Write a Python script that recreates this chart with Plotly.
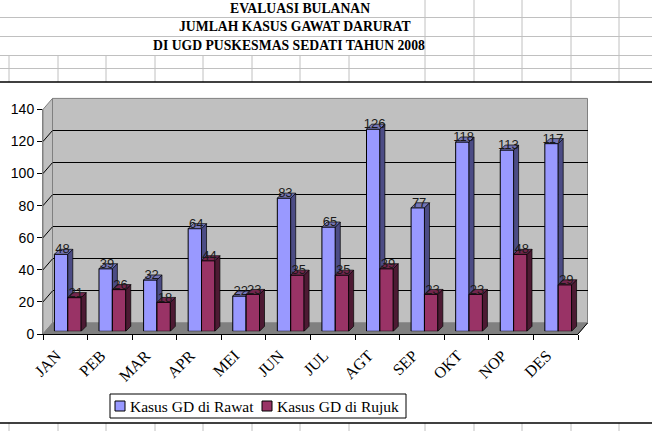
import plotly.graph_objects as go

months = ["JAN","PEB","MAR","APR","MEI","JUN","JUL","AGT","SEP","OKT","NOP","DES"]
rawat = [48,39,32,64,22,83,65,126,77,118,113,117]
rujuk = [21,26,18,44,23,35,35,39,23,23,48,29]
series_names = ["Kasus GD di Rawat", "Kasus GD di Rujuk"]
y_ticks = [0,20,40,60,80,100,120,140]

W, H = 652, 431
PX, PY = 44.6, 224.6/140
idx = list(range(len(months)))
bw = 0.3
dx, dy = 5/PX, 5/PY

def xd(a, b): return [a/W, b/W]
def yd(top, bot): return [1-bot/H, 1-top/H]

def depth(vals, left):
    sx, sy, tx, ty = [], [], [], []
    for i, v in zip(idx, vals):
        x0 = i+left; x1 = x0+bw
        sx += [x1, x1+dx, x1+dx, x1, x1, None]
        sy += [0, dy, v+dy, v, 0, None]
        tx += [x0, x0+dx, x1+dx, x1, x0, None]
        ty += [v, v+dy, v+dy, v, v, None]
    return sx, sy, tx, ty

fig = go.Figure()

def series(name, vals, left, face, side, top, ax):
    sx, sy, tx, ty = depth(vals, left)
    xa, ya = f"x{ax}", f"y{ax}"
    fig.add_trace(go.Bar(x=idx, y=vals, width=bw, offset=left, name=name,
                         marker=dict(color=face, line=dict(color="black", width=1)),
                         showlegend=False, xaxis=xa, yaxis=ya))
    for px_, py_, c in ((sx, sy, side), (tx, ty, top)):
        fig.add_trace(go.Scatter(x=px_, y=py_, mode="lines", fill="toself", fillcolor=c,
                                 line=dict(color="black", width=0.7), showlegend=False,
                                 hoverinfo="skip", xaxis=xa, yaxis=ya))
    fig.add_trace(go.Scatter(x=[i+left+bw/2+0.03 for i in idx], y=[v-1.5 for v in vals], mode="text",
                             text=[str(v) for v in vals], textposition="top center",
                             textfont=dict(family="Liberation Sans", size=13, color="#1a1a1a"),
                             showlegend=False, hoverinfo="skip", cliponaxis=False,
                             xaxis=xa, yaxis=ya))

fig.add_trace(go.Scatter(x=[0], y=[0], mode="markers", marker=dict(opacity=0), showlegend=False,
                         hoverinfo="skip", xaxis="x", yaxis="y"))
fig.add_trace(go.Scatter(x=[0], y=[0], mode="markers", marker=dict(opacity=0), showlegend=False,
                         hoverinfo="skip", xaxis="x2", yaxis="y2"))
series(series_names[0], rawat, -bw, "#9999FF", "#4C4C85", "#7575B5", 3)
series(series_names[1], rujuk, 0, "#993366", "#4D1A33", "#73264D", 4)

xrange = [-0.5, 11.5]
yrange = [0, 140]
hidden = dict(visible=False, fixedrange=True, automargin=False)
L, R, T, B = 43, 578, 109.4, 334
layout = dict(
    template="none",
    width=W, height=H, margin=dict(l=0, r=0, t=0, b=0),
    paper_bgcolor="white", plot_bgcolor="rgba(0,0,0,0)", showlegend=False,
    xaxis=dict(domain=xd(L+9.5, R+9.5), range=xrange, visible=False, anchor="y", automargin=False),
    yaxis=dict(domain=yd(T-11, B-11), range=yrange, tickmode="array", tickvals=y_ticks[1:-1],
               showgrid=True, gridcolor="black",
               gridwidth=1, zeroline=False, showticklabels=False, ticks="", showline=False,
               anchor="x", automargin=False),
    xaxis2=dict(domain=xd(L, R), range=xrange, anchor="y2", showgrid=False, zeroline=False,
                tickmode="array", tickvals=[i-0.2 for i in idx], ticktext=months, ticks="", tickangle=-45,
                tickfont=dict(family="Liberation Serif", size=16, color="black"),
                ticklabelstandoff=5, automargin=False,
                showline=True, linecolor="black", linewidth=1,
                minor=dict(tickmode="array", tickvals=[i-0.5 for i in range(13)],
                           ticks="outside", ticklen=5, tickcolor="black", tickwidth=1)),
    yaxis2=dict(domain=yd(T, B), range=yrange, anchor="x2", tickmode="array",
                tickvals=y_ticks, showgrid=False, zeroline=False,
                ticks="outside", ticklen=5, tickcolor="black", tickwidth=1, automargin=False,
                tickfont=dict(family="Liberation Sans", size=14, color="black"),
                showline=True, linecolor="#808080", linewidth=1),
    xaxis3=dict(domain=xd(L+2.5, R+2.5), range=xrange, anchor="y3", **hidden),
    yaxis3=dict(domain=yd(T-2.7, B-2.7), range=yrange, anchor="x3", **hidden),
    xaxis4=dict(domain=xd(L+2.5, R+2.5), range=xrange, anchor="y4", **hidden),
    yaxis4=dict(domain=yd(T-2.7, B-2.7), range=yrange, anchor="x4", **hidden),
)
fig.update_layout(**layout)

def px_line(x0, y0, x1, y1, color="#c0c0c0", width=1):
    return dict(type="line", xref="paper", yref="paper", x0=x0/W, x1=x1/W, y0=1-y0/H, y1=1-y1/H,
                line=dict(color=color, width=width), layer="below")

def px_poly(pts, fill, line="rgba(0,0,0,0)"):
    path = "M " + " L ".join(f"{x/W},{1-y/H}" for x, y in pts) + " Z"
    return dict(type="path", xref="paper", yref="paper", path=path, fillcolor=fill,
                line=dict(color=line, width=1), layer="below")

shapes = []
for y in (17.5, 36.5, 55.5, 68.5):
    shapes.append(px_line(0, y, W, y))
for x in (425, 474, 522, 571, 619):
    shapes.append(px_line(x, 0, x, 82))
    shapes.append(px_line(x, 423, x, 431))
for x in (9, 58, 106, 155, 203, 252, 300, 349):
    shapes.append(px_line(x, 55, x, 82))
    shapes.append(px_line(x, 423, x, 431))
shapes.append(px_line(0, 82, W, 82, "black", 1.5))
shapes.append(px_line(0, 423, W, 423, "black", 1.5))
shapes.append(px_poly([(52.5, 98.4), (587.5, 98.4), (587.5, 323), (52.5, 323)], "#C0C0C0", "#808080"))
shapes.append(px_poly([(43, 109.4), (52.5, 98.4), (52.5, 323), (43, 334)], "#C0C0C0", "#808080"))
shapes.append(px_poly([(43, 334), (52.5, 323), (587.5, 323), (578, 334)], "#808080", "#808080"))
for v in y_ticks[1:-1]:
    yp = B - v*PY
    shapes.append(px_line(L, yp, L+9.5, yp-11, "black", 1))
shapes.append(px_line(R, B, R+9.5, B-11, "black", 1))
# legend
shapes.append(px_poly([(110, 394), (406, 394), (406, 418), (110, 418)], "white", "black"))
shapes.append(px_poly([(115, 401), (125, 401), (125, 411), (115, 411)], "#9999FF", "black"))
shapes.append(px_poly([(262, 401), (272, 401), (272, 411), (262, 411)], "#993366", "black"))
fig.update_layout(shapes=shapes)

titles = [("EVALUASI BULANAN", 8), ("JUMLAH KASUS GAWAT DARURAT", 27), ("DI UGD PUSKESMAS SEDATI TAHUN 2008", 46)]
centers = [300, 295, 289]
ann = [dict(text=f"<b>{t}</b>", x=c/W, y=1-y/H, xref="paper", yref="paper", showarrow=False,
            xanchor="center", yanchor="middle",
            font=dict(family="Liberation Serif", size=13.7, color="black"))
       for (t, y), c in zip(titles, centers)]
for name, xp in zip(series_names, (128, 275)):
    ann.append(dict(text=name, x=xp/W, y=1-406/H, xref="paper", yref="paper", showarrow=False,
                    xanchor="left", yanchor="middle",
                    font=dict(family="Liberation Serif", size=15.5, color="black")))
fig.update_layout(annotations=ann)
fig.write_html("out.html", post_script="document.body.style.margin='0';",
               config=dict(displayModeBar=False))
